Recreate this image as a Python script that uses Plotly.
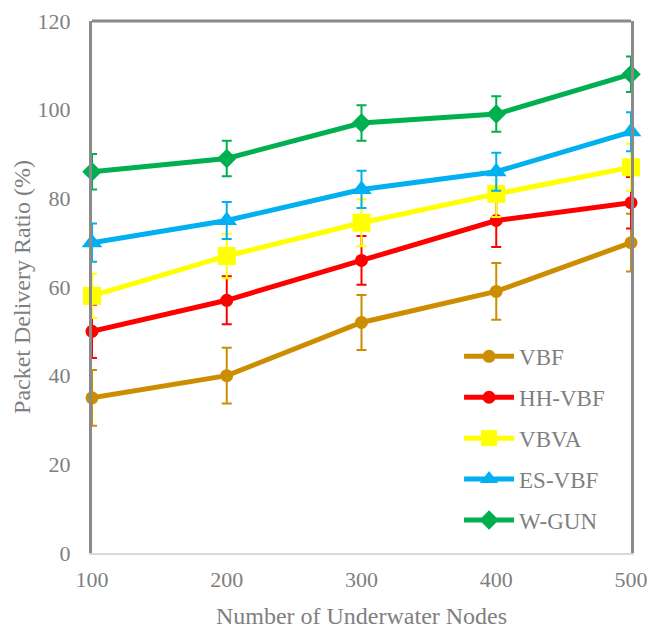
import plotly.graph_objects as go

nodes = [100, 200, 300, 400, 500]
x_ticks = [100, 200, 300, 400, 500]
y_ticks = [0, 20, 40, 60, 80, 100, 120]

vbf = [35, 40, 52, 59, 70]
vbf_err = [6.3, 6.3, 6.2, 6.4, 6.5]
hh_vbf = [50, 57, 66, 75, 79]
hh_vbf_err = [6.0, 5.4, 5.5, 6.0, 5.8]
vbva = [58, 67, 74.5, 81, 87]
vbva_err = [5.0, 5.0, 5.3, 5.2, 5.3]
es_vbf = [70, 75, 82, 86, 95]
es_vbf_err = [4.3, 4.2, 4.2, 4.3, 4.4]
w_gun = [86, 89, 97, 99, 108]
w_gun_err = [4.0, 4.0, 4.0, 4.0, 4.0]

series = [
    ("VBF", vbf, vbf_err, "#CC8E00", "circle", 13),
    ("HH-VBF", hh_vbf, hh_vbf_err, "#FF0000", "circle", 13),
    ("VBVA", vbva, vbva_err, "#FFFF00", "square", 18),
    ("ES-VBF", es_vbf, es_vbf_err, "#00B0F0", "triangle-up", 18),
    ("W-GUN", w_gun, w_gun_err, "#00B050", "diamond", 15),
]

FONT = "Liberation Serif, Times New Roman, serif"
GRAY = "#7f7f7f"

fig = go.Figure()
for name, vals, err, color, sym, size in series:
    fig.add_trace(go.Scatter(
        x=nodes, y=vals, name=name, mode="lines+markers",
        line=dict(color=color, width=5),
        marker=dict(color=color, symbol=sym, size=size),
        error_y=dict(type="data", array=err, visible=True, color=color,
                     thickness=2, width=5),
        legendgroup=name,
        cliponaxis=False,
    ))

fig.add_shape(type="line", xref="paper", yref="paper", x0=0, x1=1, y0=1, y1=1,
              line=dict(color="#8a8a8a", width=3))

fig.update_layout(
    width=649, height=630,
    margin=dict(l=92, r=18, t=21, b=77),
    plot_bgcolor="white", paper_bgcolor="white",
    font=dict(family=FONT, color=GRAY, size=23),
    showlegend=True,
    legend=dict(x=0.681, y=0.41, xanchor="left", yanchor="top",
                font=dict(size=23, color=GRAY, family=FONT),
                bgcolor="rgba(255,255,255,0)", tracegroupgap=8,
                itemwidth=50),
    xaxis=dict(range=[100, 500], tickvals=x_ticks, ticks="", showgrid=False,
               zeroline=False, showline=True, linecolor="#d9d9d9", linewidth=2,
               automargin=False,
               title=dict(text="Number of Underwater Nodes", font=dict(size=24, color=GRAY), standoff=16),
               tickfont=dict(size=22, color=GRAY), ticklabelstandoff=6),
    yaxis=dict(range=[0, 120], tickvals=y_ticks, ticks="", showgrid=False,
               zeroline=False, showline=True, linecolor="#8a8a8a", linewidth=3,
               mirror=True, automargin=False,
               title=dict(text="Packet Delivery Ratio (%)", font=dict(size=24, color=GRAY), standoff=1),
               tickfont=dict(size=22, color=GRAY), ticklabelstandoff=14),
)

fig.write_html("out.html", config={"displayModeBar": False},
               post_script="document.body.style.margin='0';document.body.style.overflow='hidden';")
